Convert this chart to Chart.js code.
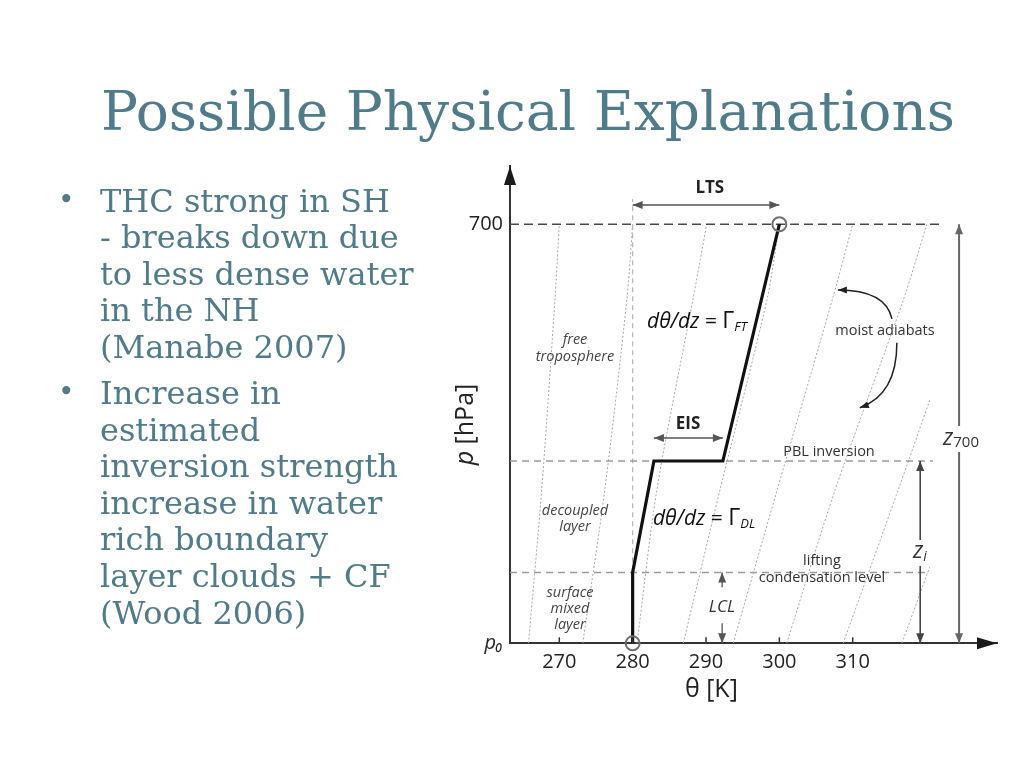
<!DOCTYPE html>
<html>
<head>
<meta charset="utf-8">
<script src="https://cdn.jsdelivr.net/npm/chart.js@4.4.0/dist/chart.umd.min.js"></script>
<style>
  html, body { margin: 0; padding: 0; background: #ffffff; }
  body { width: 1024px; height: 768px; position: relative; overflow: hidden; }
  #chart { position: absolute; left: 0; top: 0; }
  #title { position: absolute; left: 0; width: 1056px; top: 84px; text-align: center;
           font-family: "DejaVu Serif", serif; font-size: 55px; line-height: 55px; color: #4f7b8b; white-space: nowrap; }
  .ln { position: absolute; left: 100px; font-family: "DejaVu Serif", serif; font-size: 32px; line-height: 36.6px;
        color: #4f7b8b; white-space: nowrap; }
  .bul { position: absolute; left: 58px; font-family: "DejaVu Serif", serif; font-size: 28px; line-height: 36.6px; color: #4f7b8b; }
</style>
</head>
<body>
<canvas id="chart" width="1024" height="768"></canvas>
<div id="title">Possible Physical Explanations</div>
<div id="bullets"></div>
<script>
// ---------------- slide text ----------------
const bulletParagraphs = [
  ["THC strong in SH", "- breaks down due", "to less dense water", "in the NH", "(Manabe 2007)"],
  ["Increase in", "estimated", "inversion strength", "increase in water", "rich boundary", "layer clouds + CF", "(Wood 2006)"]
];

// ---------------- chart data ----------------
const thetaTicks = [270, 280, 290, 300, 310];            // x tick labels [K]
const heightTickValues = [0, 1];                          // normalised height (p0 -> 0, 700 hPa -> 1)
const heightTickLabels = ["p\u2080", "700"];

const profileTheta  = [280, 280, 282.9, 292.3, 300];
const profileHeight = [0, 0.169, 0.435, 0.435, 1];

const endpointTheta  = [280, 300];
const endpointHeight = [0, 1];

const levelLCL = 0.169;
const levelPBL = 0.435;
const level700 = 1;

// moist adiabats (theta at read heights)
const adiabatHeights = [0, 0.366, 0.819, 1];
const adiabat1 = [265.8, 267.6, 269.4, 270.0];
const adiabat2 = [273.2, 276.2, 279.2, 280.0];
const adiabat3 = [280.6, 283.3, 288.2, 290.1];
const adiabat4 = [286.9, 291.9, 298.3, 300.0];
const adiabat5 = [293.7, 299.7, 307.2, 310.0];
const adiabat6 = [301.0, 307.6, 316.9, 320.1];
const adiabat7Theta  = [308.7, 316.2, 320.5];
const adiabat7Height = [0, 0.366, 0.58];
const adiabat8Theta  = [316.7, 320.5];
const adiabat8Height = [0, 0.182];

const thetaMin = 263.28, thetaMax = 329.67, heightMax = 1.139;

// ---------------- build slide text ----------------
(function () {
  const host = document.getElementById('bullets');
  const firstBaseline = 212.0, step = 36.6, paraGap = 9.3, baseOffset = 29.4;
  let base = firstBaseline;
  bulletParagraphs.forEach((para) => {
    const b = document.createElement('div');
    b.className = 'bul'; b.textContent = '\u2022';
    b.style.top = (base - baseOffset - 1) + 'px';
    host.appendChild(b);
    para.forEach((line) => {
      const d = document.createElement('div');
      d.className = 'ln'; d.textContent = line;
      d.style.top = (base - baseOffset) + 'px';
      host.appendChild(d);
      base += step;
    });
    base += paraGap;
  });
})();

// ---------------- helpers ----------------
const SANS = '"Open Sans", "Noto Sans", sans-serif';
const pts = (xs, ys) => xs.map((x, i) => ({ x: x, y: ys[i] }));
const lineDs = (data, color, width, dash, extra) => Object.assign({
  data: data, showLine: true, borderColor: color, borderWidth: width, borderDash: dash || [],
  pointRadius: 0, fill: false, tension: 0
}, extra || {});

const adiabatStyle = ['#a6a6a6', 1, [2, 2]];
const adiabatSets = [adiabat1, adiabat2, adiabat3, adiabat4, adiabat5, adiabat6].map(a =>
  lineDs(pts(a, adiabatHeights), adiabatStyle[0], adiabatStyle[1], adiabatStyle[2], { tension: 0.3 }));
adiabatSets.push(lineDs(pts(adiabat7Theta, adiabat7Height), adiabatStyle[0], adiabatStyle[1], adiabatStyle[2], { tension: 0.3 }));
adiabatSets.push(lineDs(pts(adiabat8Theta, adiabat8Height), adiabatStyle[0], adiabatStyle[1], adiabatStyle[2]));

const datasets = [
  { data: pts(endpointTheta, endpointHeight), showLine: false, pointRadius: 7, pointBorderWidth: 2,
    pointBorderColor: '#707070', pointBackgroundColor: 'rgba(255,255,255,0)', clip: false },
  lineDs(pts(profileTheta, profileHeight), '#111111', 3.2, [], { borderJoinStyle: 'miter', clip: false }),
  // arrows
  lineDs([{ x: 280, y: 1.046 }, { x: 300, y: 1.046 }], '#555555', 1.5, [], { arrow: 'both' }),
  lineDs([{ x: 282.9, y: 0.490 }, { x: 292.3, y: 0.490 }], '#555555', 1.5, [], { arrow: 'both' }),
  lineDs([{ x: 324.5, y: 0 }, { x: 324.5, y: 1 }], '#666666', 2, [], { arrow: 'both', clip: false }),
  lineDs([{ x: 319.2, y: 0 }, { x: 319.2, y: levelPBL }], '#444444', 1.6, [], { arrow: 'both', clip: false }),
  lineDs([{ x: 292.2, y: 0.134 }, { x: 292.2, y: levelLCL }], '#555555', 1.3, [], { arrow: 'end' }),
  lineDs([{ x: 292.2, y: 0.048 }, { x: 292.2, y: 0 }], '#555555', 1.3, [], { arrow: 'end', clip: false }),
  // reference lines
  lineDs([{ x: thetaMin, y: level700 }, { x: 322.3, y: level700 }], '#4a4a4a', 1.6, [9, 5]),
  lineDs([{ x: thetaMin, y: levelPBL }, { x: 320.9, y: levelPBL }], '#9a9a9a', 1.6, [7, 5]),
  lineDs([{ x: thetaMin, y: levelLCL }, { x: 320.5, y: levelLCL }], '#9a9a9a', 1.6, [7, 5]),
  lineDs([{ x: 280, y: 0 }, { x: 280, y: 1.060 }], '#b4b4b4', 1.2, [5, 4]),
].concat(adiabatSets);

// labels in data coordinates
const textLabels = [
  { x: 290.52, y: 1.087, parts: [{ t: 'LTS', f: 'bold 17px ' + SANS }], color: '#222' },
  { x: 287.55, y: 0.523, parts: [{ t: 'EIS', f: 'bold 17px ' + SANS }], color: '#222' },
  { x: 272.14, y: 0.724, parts: [{ t: 'free', f: 'italic 14.5px ' + SANS }], color: '#444' },
  { x: 272.14, y: 0.683, parts: [{ t: 'troposphere', f: 'italic 14.5px ' + SANS }], color: '#444' },
  { x: 272.14, y: 0.316, parts: [{ t: 'decoupled', f: 'italic 14.5px ' + SANS }], color: '#444' },
  { x: 272.14, y: 0.278, parts: [{ t: 'layer', f: 'italic 14.5px ' + SANS }], color: '#444' },
  { x: 271.46, y: 0.120, parts: [{ t: 'surface', f: 'italic 14.5px ' + SANS }], color: '#444' },
  { x: 271.46, y: 0.082, parts: [{ t: 'mixed', f: 'italic 14.5px ' + SANS }], color: '#444' },
  { x: 271.46, y: 0.044, parts: [{ t: 'layer', f: 'italic 14.5px ' + SANS }], color: '#444' },
  { x: 314.40, y: 0.745, parts: [{ t: 'moist adiabats', f: '14.5px ' + SANS }], color: '#333' },
  { x: 306.77, y: 0.457, parts: [{ t: 'PBL inversion', f: '14.5px ' + SANS }], color: '#333' },
  { x: 305.81, y: 0.196, parts: [{ t: 'lifting', f: '14.5px ' + SANS }], color: '#333' },
  { x: 305.81, y: 0.156, parts: [{ t: 'condensation level', f: '14.5px ' + SANS }], color: '#333' },
  { x: 292.18, y: 0.087, parts: [{ t: 'LCL', f: 'italic 17px ' + SANS }], color: '#333', bg: true },
  { x: 319.17, y: 0.218, parts: [{ t: 'z', f: 'italic 23px ' + SANS }, { t: 'i', f: 'italic 14px ' + SANS, dy: 5 }], color: '#333', bg: true },
  { x: 324.76, y: 0.490, parts: [{ t: 'z', f: 'italic 23px ' + SANS }, { t: '700', f: '15px ' + SANS, dy: 5 }], color: '#333', bg: true },
  { x: 281.96, y: 0.767, align: 'left', parts: [{ t: 'd\u03b8/dz', f: 'italic 21px ' + SANS }, { t: ' = ', f: '21px ' + SANS }, { t: '\u0393', f: '23px ' + SANS }, { t: 'FT', f: 'italic 13px ' + SANS, dy: 5 }], color: '#111' },
  { x: 282.77, y: 0.297, align: 'left', parts: [{ t: 'd\u03b8/dz', f: 'italic 21px ' + SANS }, { t: ' = ', f: '21px ' + SANS }, { t: '\u0393', f: '23px ' + SANS }, { t: 'DL', f: 'italic 13px ' + SANS, dy: 5 }], color: '#111' },
];

// curved "moist adiabats" pointers: start, control, end (data coords)
const curvedPointers = [
  [[315.35, 0.774], [314.5, 0.843], [307.98, 0.843]],
  [[316.02, 0.717], [316.02, 0.593], [310.97, 0.562]],
];

function arrowHead(ctx, fromX, fromY, toX, toY, len, half, color) {
  const a = Math.atan2(toY - fromY, toX - fromX);
  ctx.save();
  ctx.fillStyle = color;
  ctx.beginPath();
  ctx.moveTo(toX, toY);
  ctx.lineTo(toX - len * Math.cos(a) + half * Math.sin(a), toY - len * Math.sin(a) - half * Math.cos(a));
  ctx.lineTo(toX - len * Math.cos(a) - half * Math.sin(a), toY - len * Math.sin(a) + half * Math.cos(a));
  ctx.closePath();
  ctx.fill();
  ctx.restore();
}

function drawParts(ctx, parts, x, y, align, color, bg) {
  let total = 0;
  parts.forEach(p => { ctx.font = p.f; p.w = ctx.measureText(p.t).width; total += p.w; });
  let cx = align === 'left' ? x : x - total / 2;
  if (bg) {
    ctx.fillStyle = '#ffffff';
    ctx.fillRect(cx - 2, y - 12, total + 4, 26);
  }
  ctx.fillStyle = color;
  ctx.textBaseline = 'middle';
  ctx.textAlign = 'left';
  parts.forEach(p => { ctx.font = p.f; ctx.fillText(p.t, cx, y + (p.dy || 0)); cx += p.w; });
}

const diagramPlugin = {
  id: 'diagram',
  afterDatasetsDraw(chart) {
    const ctx = chart.ctx, xs = chart.scales.x, ys = chart.scales.y, area = chart.chartArea;
    chart.data.datasets.forEach((ds, i) => {
      if (!ds.arrow) return;
      const m = chart.getDatasetMeta(i).data;
      const a = m[0], b = m[m.length - 1];
      arrowHead(ctx, a.x, a.y, b.x, b.y, 10, 4, ds.borderColor);
      if (ds.arrow === 'both') arrowHead(ctx, b.x, b.y, a.x, a.y, 10, 4, ds.borderColor);
    });
    ctx.save();
    ctx.strokeStyle = '#333'; ctx.lineWidth = 1.5;
    thetaTicks.forEach(v => {
      const px = xs.getPixelForValue(v);
      ctx.beginPath(); ctx.moveTo(px, area.bottom); ctx.lineTo(px, area.bottom - 6); ctx.stroke();
    });
    ctx.restore();
    arrowHead(ctx, area.left, area.top + 30, area.left, area.top, 19, 6, '#1a1a1a');
    arrowHead(ctx, area.right - 30, area.bottom, area.right, area.bottom, 20, 6, '#1a1a1a');
    curvedPointers.forEach(c => {
      const p = c.map(q => [xs.getPixelForValue(q[0]), ys.getPixelForValue(q[1])]);
      ctx.save();
      ctx.strokeStyle = '#222'; ctx.lineWidth = 1.5;
      ctx.beginPath(); ctx.moveTo(p[0][0], p[0][1]);
      ctx.quadraticCurveTo(p[1][0], p[1][1], p[2][0], p[2][1]);
      ctx.stroke();
      ctx.restore();
      arrowHead(ctx, p[1][0], p[1][1], p[2][0], p[2][1], 9, 3.5, '#222');
    });
    textLabels.forEach(l => {
      ctx.save();
      drawParts(ctx, l.parts, xs.getPixelForValue(l.x), ys.getPixelForValue(l.y), l.align, l.color, l.bg);
      ctx.restore();
    });
    ctx.save();
    const midTheta = 290.73;
    drawParts(ctx, [{ t: '\u03b8 [K]', f: '25px ' + SANS }], xs.getPixelForValue(midTheta), area.bottom + 47, 'center', '#222');
    ctx.translate(area.left - 44, ys.getPixelForValue(0.522));
    ctx.rotate(-Math.PI / 2);
    drawParts(ctx, [{ t: 'p', f: 'italic 25px ' + SANS }, { t: ' [hPa]', f: '25px ' + SANS }], 0, 0, 'center', '#222');
    ctx.restore();
  }
};

new Chart(document.getElementById('chart'), {
  type: 'scatter',
  data: { datasets: datasets },
  plugins: [diagramPlugin],
  options: {
    responsive: false,
    animation: false,
    layout: { padding: { left: 0, right: 27, top: 166, bottom: 0 } },
    plugins: { legend: { display: false }, tooltip: { enabled: false } },
    scales: {
      x: {
        type: 'linear', min: thetaMin, max: thetaMax,
        afterFit(s) { s.height = 124.7; },
        afterBuildTicks(s) { s.ticks = thetaTicks.map(v => ({ value: v })); },
        grid: { display: false, drawTicks: false, tickLength: 0 },
        border: { display: true, color: '#333', width: 2 },
        ticks: { padding: 7, autoSkip: false, maxRotation: 0, color: '#222',
                 font: { family: SANS, size: 20 }, callback: v => String(v) }
      },
      y: {
        type: 'linear', min: 0, max: heightMax,
        afterFit(s) { s.width = 510; },
        afterBuildTicks(s) { s.ticks = heightTickValues.map(v => ({ value: v })); },
        grid: { display: false, drawTicks: false, tickLength: 0 },
        border: { display: true, color: '#333', width: 2 },
        ticks: { padding: 7, autoSkip: false, color: '#222',
                 font: ctx => ({ family: SANS, size: 20, style: (ctx.tick && ctx.tick.value === 0) ? 'italic' : 'normal' }),
                 callback: v => heightTickLabels[heightTickValues.indexOf(v)] }
      }
    }
  }
});
</script>
</body>
</html>
